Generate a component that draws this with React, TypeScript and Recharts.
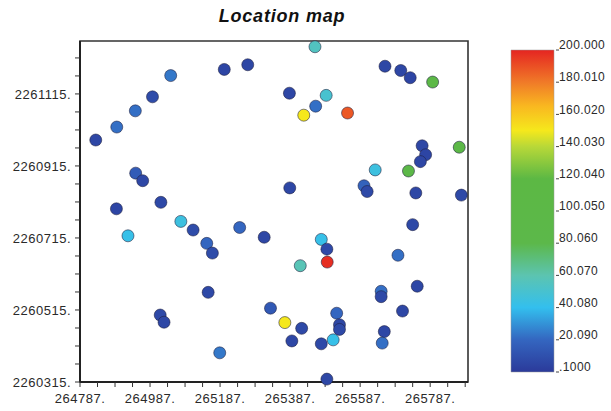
import React from 'react'
import {
  ScatterChart,
  Scatter,
  XAxis,
  YAxis,
  ReferenceArea,
} from 'recharts'

// sample locations (easting, northing) and measured value
const eastings = [
  264832, 264892, 264945, 264994, 265046, 265199, 265266, 264946, 264966, 264891,
  265018, 265075, 265110, 265243, 264924, 265149, 265165, 265153, 265016, 265027,
  265186, 265458, 265658, 265703, 265730, 265794, 265385, 265490, 265460, 265426,
  265551, 265764, 265774, 265759, 265870, 265630, 265725, 265386, 265598, 265607,
  265746, 265876, 265737, 265313, 265476, 265492, 265416, 265493, 265695, 265647,
  265647, 265750, 265331, 265708, 265372, 265420, 265520, 265528, 265528, 265392,
  265476, 265510, 265656, 265650, 265492,
]
const northings = [
  2260987, 2261023, 2261068, 2261107, 2261166, 2261183, 2261196, 2260895, 2260874, 2260796,
  2260814, 2260761, 2260737, 2260744, 2260721, 2260700, 2260673, 2260564, 2260501, 2260481,
  2260396, 2261246, 2261192, 2261180, 2261160, 2261148, 2261117, 2261111, 2261081, 2261056,
  2261062, 2260971, 2260946, 2260927, 2260967, 2260904, 2260901, 2260854, 2260860, 2260844,
  2260840, 2260834, 2260752, 2260717, 2260711, 2260684, 2260638, 2260648, 2260667, 2260567,
  2260552, 2260581, 2260520, 2260512, 2260480, 2260464, 2260506, 2260474, 2260461, 2260429,
  2260421, 2260432, 2260455, 2260423, 2260323,
]
const values = [
  6, 22, 22, 8, 24, 5, 6, 15, 6, 5,
  7, 45, 8, 20, 42, 20, 8, 7, 7, 6,
  24, 55, 6, 6, 5, 100, 6, 50, 22, 150,
  188, 6, 5, 6, 100, 45, 95, 6, 18, 7,
  6, 7, 7, 6, 42, 7, 58, 198, 22, 22,
  7, 6, 14, 6, 150, 7, 20, 6, 7, 6,
  7, 42, 6, 22, 6,
]

const xTicks = Array.from({ length: 23 }, (_, i) => 264787 + i * 50)
const yTicks = Array.from({ length: 19 }, (_, i) => 2260315 + i * 50)
const labelStep = 200
const scaleTicks = [0.1, 20.09, 40.08, 60.07, 80.06, 100.05, 120.04, 140.03, 160.02, 180.01, 200]
const scaleLabels = ['.1000', '20.090', '40.080', '60.070', '80.060', '100.050', '120.040', '140.030', '160.020', '180.010', '200.000']

// colour ramp of the legend bar
const RAMP: [number, string][] = [
  [0, '#2b3a9a'],
  [20, '#3466c0'],
  [40, '#33bfee'],
  [60, '#5cc4b0'],
  [80, '#5cb84a'],
  [120, '#5cb844'],
  [140, '#b8d838'],
  [150, '#f5e81c'],
  [165, '#f9b820'],
  [180, '#f07a28'],
  [200, '#e52521'],
]

const hex = (c: string) => [1, 3, 5].map(i => parseInt(c.slice(i, i + 2), 16))
const colourFor = (v: number) => {
  for (let i = 1; i < RAMP.length; i++) {
    const [v1, c1] = RAMP[i]
    const [v0, c0] = RAMP[i - 1]
    if (v <= v1) {
      const t = (v - v0) / (v1 - v0)
      const a = hex(c0)
      const b = hex(c1)
      const m = a.map((x, k) => Math.round(x + (b[k] - x) * t))
      return `rgb(${m[0]},${m[1]},${m[2]})`
    }
  }
  return RAMP[RAMP.length - 1][1]
}

const data = eastings.map((x, i) => ({ x, y: northings[i], v: values[i] }))
const scaleData = [{ x: 0, y: 0.1 }, { x: 1, y: 200 }]

const FONT = 'Liberation Sans, Arial, Helvetica, sans-serif'
const tickStyle = { fontSize: 13, fill: '#2a2a2a', fontFamily: FONT, letterSpacing: 0.5 }

const Dot = (props: any) => {
  const { cx, cy, payload } = props
  if (cx == null || cy == null) return null
  return (
    <circle
      cx={cx}
      cy={cy}
      r={6}
      fill={colourFor(payload.v)}
      stroke="rgba(30,30,60,0.55)"
      strokeWidth={1}
    />
  )
}

// colour bar tick: short mark right of the bar, label just above it
const ScaleTick = (props: any) => {
  const { x, y, payload } = props
  const i = scaleTicks.indexOf(payload.value)
  return (
    <g>
      <line x1={x - 4} x2={x - 1} y1={y} y2={y} stroke="#444" strokeWidth={1} />
      <text
        x={x - 1}
        y={y - 5}
        dy="0.35em"
        fontSize={12}
        fontFamily={FONT}
        fill="#2a2a2a"
        letterSpacing={0.4}
      >
        {scaleLabels[i]}
      </text>
    </g>
  )
}

export default function App() {
  return (
    <div style={{ position: 'absolute', left: 0, top: 0, width: 611, height: 411, background: '#fff' }}>
      <div
        style={{
          position: 'absolute',
          left: 182,
          width: 200,
          top: 6,
          textAlign: 'center',
          fontFamily: FONT,
          fontWeight: 'bold',
          fontStyle: 'italic',
          fontSize: 18,
          letterSpacing: 0.8,
          color: '#111',
        }}
      >
        Location map
      </div>

      <div style={{ position: 'absolute', left: 0, top: 0 }}>
        <ScatterChart width={480} height={411} margin={{ top: 41, right: 12, bottom: 0, left: 0 }}>
          <XAxis
            type="number"
            dataKey="x"
            domain={[264787, 265895]}
            ticks={xTicks}
            interval={0}
            tickFormatter={v => ((v - 264787) % labelStep === 0 ? `${v}.` : '')}
            tick={tickStyle}
            tickSize={5}
            tickMargin={7}
            height={29}
            axisLine={{ stroke: '#222', strokeWidth: 2 }}
            tickLine={{ stroke: '#333' }}
          />
          <YAxis
            type="number"
            dataKey="y"
            domain={[2260315, 2261262]}
            ticks={yTicks}
            interval={0}
            tickFormatter={v => ((v - 2260315) % labelStep === 0 ? `${v}.` : '')}
            tick={tickStyle}
            tickSize={5}
            tickMargin={4}
            width={80}
            axisLine={{ stroke: '#222', strokeWidth: 2 }}
            tickLine={{ stroke: '#333' }}
          />
          {/* plot frame */}
          <ReferenceArea
            x1={264787}
            x2={265895}
            y1={2260315}
            y2={2261262}
            fill="none"
            stroke="#333"
            strokeWidth={1.6}
            ifOverflow="visible"
          />
          <Scatter data={data} shape={<Dot />} isAnimationActive={false} />
        </ScatterChart>
      </div>

      <div style={{ position: 'absolute', left: 500, top: 0 }}>
        <ScatterChart width={111} height={411} margin={{ top: 50, right: 0, bottom: 39, left: 11 }}>
          <defs>
            <linearGradient id="ramp" x1="0" y1="1" x2="0" y2="0">
              {RAMP.map(([v, c]) => (
                <stop key={v} offset={v / 200} stopColor={c} />
              ))}
            </linearGradient>
          </defs>
          <XAxis type="number" dataKey="x" domain={[0, 1]} hide />
          <YAxis
            orientation="right"
            type="number"
            dataKey="y"
            domain={[0.1, 200]}
            ticks={scaleTicks}
            interval={0}
            width={57}
            axisLine={false}
            tickLine={false}
            tickSize={4}
            tickMargin={2}
            tick={<ScaleTick />}
          />
          <ReferenceArea
            x1={0}
            x2={1}
            y1={0.1}
            y2={200}
            fill="url(#ramp)"
            fillOpacity={1}
            stroke="#999"
            strokeWidth={0.5}
            ifOverflow="visible"
          />
          <Scatter data={scaleData} shape={() => null} isAnimationActive={false} />
        </ScatterChart>
      </div>
    </div>
  )
}
